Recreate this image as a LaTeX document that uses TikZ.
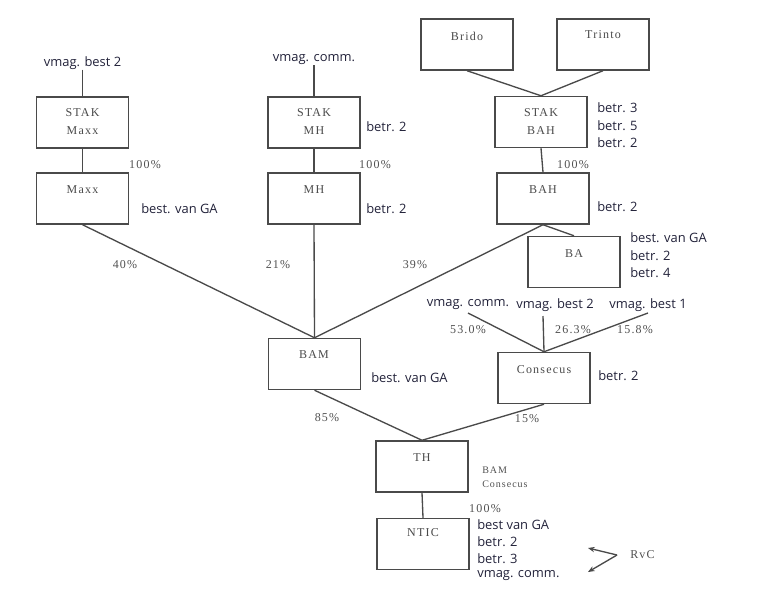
\documentclass[tikz,border=0pt]{standalone}
\usepackage{fontspec}
\setmainfont{Liberation Serif}
\newfontfamily\labfont{Open Sans}
\newfontfamily\boxfont{Liberation Serif}[LetterSpace=10]
\usetikzlibrary{arrows.meta,calc}
\definecolor{ink}{HTML}{4A4A4A}
\definecolor{labc}{HTML}{22223A}
\definecolor{pctc}{HTML}{505050}
\begin{document}
\begin{tikzpicture}[x=0.75pt,y=-0.75pt,
  box/.style={draw=ink,line width=1.1pt,minimum width=69pt,minimum height=38.25pt,inner sep=0pt},
  boxtxt/.style={font=\boxfont\fontsize{9}{13.5}\selectfont,text=ink,align=center,inner sep=0pt},
  lab/.style={font=\labfont\fontsize{9.7}{12}\selectfont,text=labc,inner sep=0pt},
  labw/.style={lab,anchor=west},
  pct/.style={font=\boxfont\fontsize{9}{11}\selectfont,text=pctc,inner sep=0pt},
  small/.style={font=\boxfont\fontsize{7.5}{9}\selectfont,text=pctc,inner sep=0pt,anchor=west},
  con/.style={draw=ink,line width=1pt}]
\useasboundingbox (0,0) rectangle (780,600);
% boxes
\node[box] (smaxx) at (82.5,122.5) {};
\node[box] (maxx) at (82.5,198.5) {};
\node[box] (smh) at (314,122.5) {};
\node[box] (mh) at (314,198.5) {};
\node[box] (brido) at (467,44.5) {};
\node[box] (trinto) at (603,44.5) {};
\node[box] (sbah) at (541,122) {};
\node[box] (bah) at (543,198.5) {};
\node[box] (ba) at (574,262) {};
\node[box] (bam) at (314.5,364) {};
\node[box] (cons) at (544,378) {};
\node[box] (th) at (422,466.5) {};
\node[box] (ntic) at (423,544) {};
% box texts
\node[boxtxt] (smaxxt) at (82.5,122) {STAK\\Maxx};
\node[boxtxt] (maxxt) at (82.5,190) {Maxx};
\node[boxtxt] (smht) at (314,122) {STAK\\MH};
\node[boxtxt] (mht) at (314,190) {MH};
\node[boxtxt] (bridot) at (467,36) {Brido};
\node[boxtxt] (trintot) at (603,35) {Trinto};
\node[boxtxt] (sbaht) at (541,122) {STAK\\BAH};
\node[boxtxt] (baht) at (543,190) {BAH};
\node[boxtxt] (bat) at (574,254) {BA};
\node[boxtxt] (bamt) at (314,355) {BAM};
\node[boxtxt] (const) at (544,370) {Consecus};
\node[boxtxt] (tht) at (422,458) {TH};
\node[boxtxt] (ntict) at (423,533) {NTIC};
% labels
\node[lab] (vm1) at (82.5,63) {vmag. best 2};
\node[lab] (vm2) at (314,60) {vmag. comm.};
\node[labw] (lmaxx) at (141,209) {best. van GA};
\node[labw] (lsmh) at (366,127) {betr. 2};
\node[labw] (lmh) at (366,209) {betr. 2};
\node[labw] (lsb1) at (597,108) {betr. 3};
\node[labw] (lsb2) at (597,126) {betr. 5};
\node[labw] (lsb3) at (597,143) {betr. 2};
\node[labw] (lbah) at (597,207) {betr. 2};
\node[labw] (lba1) at (630,238) {best. van GA};
\node[labw] (lba2) at (630,256) {betr. 2};
\node[labw] (lba3) at (630,273) {betr. 4};
\node[lab] (cv1) at (468,305) {vmag. comm.};
\node[lab] (cv2) at (555,305) {vmag. best 2};
\node[lab] (cv3) at (648,305) {vmag. best 1};
\node[labw] (lbam) at (371,378) {best. van GA};
\node[labw] (lcons) at (598,376) {betr. 2};
\node[labw] (ln1) at (477,525) {best van GA};
\node[labw] (ln2) at (477,542) {betr. 2};
\node[labw] (ln3) at (477,559) {betr. 3};
\node[labw] (ln4) at (477,576) {vmag. comm.};
% percentages
\node[pct] (p1) at (145,165) {100\%};
\node[pct] (p2) at (375,165) {100\%};
\node[pct] (p3) at (573,165) {100\%};
\node[pct] (p4) at (125,265) {40\%};
\node[pct] (p5) at (278,265) {21\%};
\node[pct] (p6) at (415,265) {39\%};
\node[pct] (p7) at (468,330) {53.0\%};
\node[pct] (p8) at (573,330) {26.3\%};
\node[pct] (p9) at (635,330) {15.8\%};
\node[pct] (p10) at (327,418) {85\%};
\node[pct] (p11) at (527,419) {15\%};
\node[pct] (p12) at (485,509) {100\%};
\node[small] (thb) at (482,470) {BAM};
\node[small] (thc) at (482,484) {Consecus};
\node[pct,anchor=west] (rvc) at (630,555) {RvC};
% connector points
\coordinate (k1) at (468,313);
\coordinate (k2) at (543,316);
\coordinate (k3) at (648,313);
\coordinate (rv) at (617,555);
\coordinate (rva) at (588,548);
\coordinate (rvb) at (588,572);
% connectors
\draw[con] (vm1.south) -- (smaxx.north);
\draw[con] (smaxx.south) -- (maxx.north);
\draw[con] (maxx.south) -- (bam.north);
\draw[con] (vm2.south) -- (smh.north);
\draw[con] (smh.south) -- (mh.north);
\draw[con] (mh.south) -- (bam.north);
\draw[con] (brido.south) -- (sbah.north);
\draw[con] (trinto.south) -- (sbah.north);
\draw[con] (sbah.south) -- (bah.north);
\draw[con] (bah.south) -- (bam.north);
\draw[con] (bah.south) -- (ba.north);
\draw[con] (k1) -- (cons.north);
\draw[con] (k2) -- (cons.north);
\draw[con] (k3) -- (cons.north);
\draw[con] (bam.south) -- (th.north);
\draw[con] (cons.south) -- (th.north);
\draw[con] (th.south) -- (ntic.north);
\draw[con,-{Stealth[length=5pt,width=4pt]}] (rv) -- (rva);
\draw[con,-{Stealth[length=5pt,width=4pt]}] (rv) -- (rvb);
\end{tikzpicture}
\end{document}
